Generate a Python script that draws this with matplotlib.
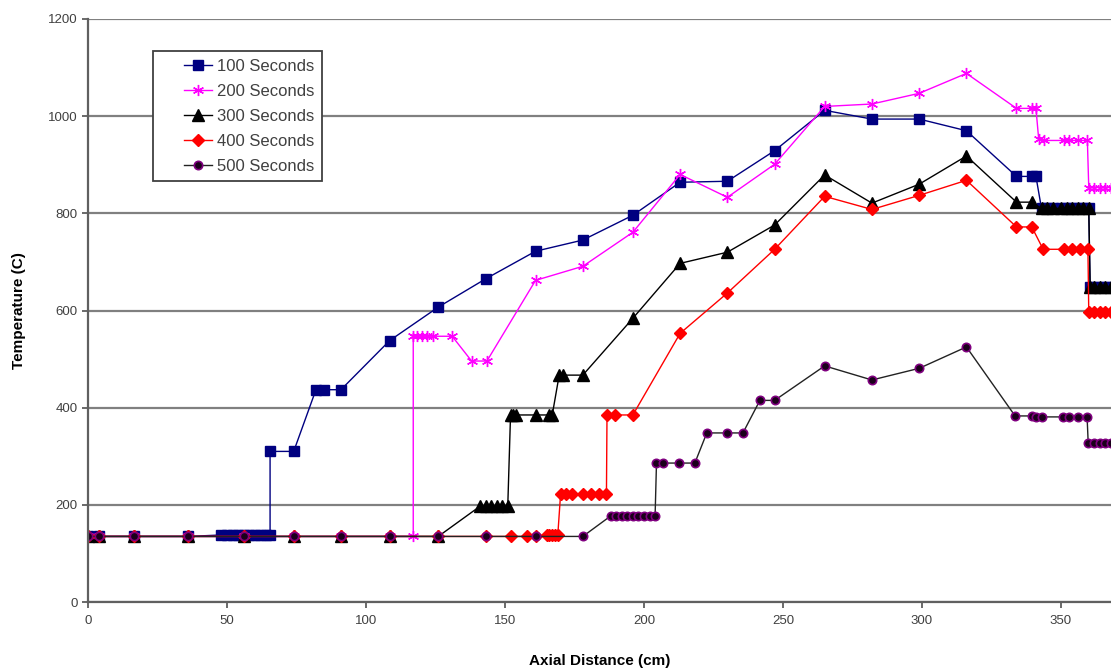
import matplotlib.pyplot as plt
from matplotlib.legend_handler import HandlerLine2D

# data (x in cm, temperature in C)
x_100 = [0, 4, 16.5, 36, 48, 50, 52, 54, 56, 58, 60, 62, 64, 65.5,
         65.5, 74, 82, 85, 91, 108.5, 126, 143, 161, 178, 196, 213, 230, 247,
         265, 282, 299, 316, 334, 339.5, 341, 343, 345, 347, 350, 352, 354,
         356, 358, 360, 360.5, 362, 364, 366, 368]
t_100 = [135, 135, 135, 135, 138, 138, 138, 138, 138, 138, 138, 138, 138, 138,
         310, 310, 437, 437, 437, 538, 607, 665, 722, 745, 796, 864, 866, 929,
         1012, 994, 994, 970, 876, 876, 876, 810, 810, 810, 810, 810, 810,
         810, 810, 810, 648, 648, 648, 648, 648]

x_200 = [0, 4, 16.5, 36, 56, 74, 91, 108.5, 117, 117, 118.5, 120, 122, 124,
         131, 138, 143.5, 161, 178, 196, 213, 230, 247, 265, 282, 299, 316,
         334, 339.5, 341, 342, 344, 351, 353, 356, 359.5, 360, 362, 364, 366, 368]
t_200 = [135, 135, 135, 135, 135, 135, 135, 135, 135, 547, 547, 547, 547, 547,
         547, 496, 496, 662, 691, 761, 880, 833, 901, 1020, 1025, 1047, 1088,
         1016, 1016, 1016, 952, 950, 950, 950, 950, 950, 853, 853, 853, 853, 853]

x_300 = [0, 4, 16.5, 36, 56, 74, 91, 108.5, 126, 141, 143, 145, 147, 149, 151,
         152, 153, 154, 161, 166, 167, 169.5, 171, 178, 196, 213, 230, 247,
         265, 282, 299, 316, 334, 339.5, 343, 345, 347, 350, 352, 354, 356,
         358, 360, 360.5, 362, 364, 366, 368]
t_300 = [135, 135, 135, 135, 135, 135, 135, 135, 135, 197, 197, 197, 197, 197, 197,
         385, 385, 385, 385, 385, 385, 467, 467, 467, 584, 697, 720, 776,
         879, 821, 860, 918, 823, 823, 810, 810, 810, 810, 810, 810, 810,
         810, 810, 648, 648, 648, 648, 648]

x_400 = [0, 4, 16.5, 36, 56, 74, 91, 108.5, 126, 143, 152, 158, 161, 165, 166,
         167, 168, 169, 170, 172, 174, 178, 181, 184, 186.5, 186.7, 189.5, 196,
         213, 230, 247, 265, 282, 299, 316, 334, 339.5, 343.6, 351, 354, 357,
         359.7, 360, 362, 364, 366, 368]
t_400 = [135, 135, 135, 135, 135, 135, 135, 135, 135, 135, 135, 135, 136, 138, 138,
         138, 138, 138, 222, 222, 222, 222, 222, 222, 222, 385, 385, 385,
         553, 636, 726, 835, 808, 837, 868, 772, 772, 726, 726, 726, 726,
         726, 597, 597, 597, 597, 597]

x_500 = [0, 4, 16.5, 36, 56, 74, 91, 108.5, 126, 143, 161, 178, 188, 190, 192,
         194, 196, 198, 200, 202, 204, 204.5, 207, 212.6, 218.3, 222.6, 230, 235.6,
         241.7, 247, 265, 282, 299, 316, 333.5, 339.5, 341, 343, 350.7, 353, 356,
         359.4, 359.8, 362, 364, 366, 368]
t_500 = [135, 135, 135, 135, 135, 135, 135, 135, 135, 135, 135, 135, 177, 177, 177,
         177, 177, 177, 177, 177, 177, 286, 286, 286, 286, 348, 348, 348,
         415, 415, 486, 457, 481, 525, 383, 383, 381, 381, 381, 381, 381,
         381, 327, 327, 327, 327, 327]

labels = ["100 Seconds", "200 Seconds", "300 Seconds", "400 Seconds", "500 Seconds"]
y_ticks = [0, 200, 400, 600, 800, 1000, 1200]
x_ticks = [0, 50, 100, 150, 200, 250, 300, 350]


def main() -> None:
    plt.rcParams["font.family"] = ["Liberation Sans", "DejaVu Sans"]

    fig = plt.figure(figsize=(11.11, 6.71), dpi=100)
    ax = fig.add_axes([0.0792, 0.1028, 0.9208, 0.8689])

    for y in y_ticks:
        ax.axhline(y, color="#808080", linewidth=1.6, zorder=0)

    ax.plot(x_100, t_100, color="#000080", linewidth=1, marker="s", markersize=7,
            markerfacecolor="#000080", markeredgecolor="#000080", label=labels[0])
    ax.plot(x_200, t_200, color="#FF00FF", linewidth=1, marker=(6, 2, 0), markersize=8,
            markeredgecolor="#FF00FF", markeredgewidth=1, label=labels[1])
    ax.plot(x_300, t_300, color="#000000", linewidth=1, marker="^", markersize=8,
            markerfacecolor="#000000", markeredgecolor="#000000", label=labels[2])
    ax.plot(x_400, t_400, color="#FF0000", linewidth=1, marker="D", markersize=6,
            markerfacecolor="#FF0000", markeredgecolor="#FF0000", label=labels[3])
    ax.plot(x_500, t_500, color="#222222", linewidth=1, marker="o", markersize=6,
            markerfacecolor="#1a001a", markeredgecolor="#800080", markeredgewidth=1.2,
            label=labels[4])

    ax.set_xlim(0, 368)
    ax.set_ylim(0, 1200)
    ax.set_xticks(x_ticks)
    ax.set_yticks(y_ticks)
    ax.tick_params(axis="both", direction="out", length=4, width=1.2,
                   colors="#505050", labelsize=9.5, labelcolor="#404040")
    ax.tick_params(axis="x", pad=5)

    for side in ["top", "right"]:
        ax.spines[side].set_visible(False)
    for side in ["left", "bottom"]:
        ax.spines[side].set_color("#606060")
        ax.spines[side].set_linewidth(1.6)

    ax.set_xlabel("Axial Distance (cm)", fontsize=11, fontweight="bold", labelpad=20)
    ax.set_ylabel("Temperature (C)", fontsize=11, fontweight="bold", labelpad=16)

    leg = ax.legend(loc="upper left", bbox_to_anchor=(0.0635, 0.945), fontsize=12,
                    fancybox=False, framealpha=1, edgecolor="#404040",
                    handlelength=3.1, handletextpad=0.3, labelspacing=0.6,
                    borderpad=0.45, borderaxespad=0,
                    handler_map={ln: HandlerLine2D(xpad=1.4) for ln in ax.get_lines()[-5:]})
    leg.get_frame().set_linewidth(1.3)
    for text in leg.get_texts():
        text.set_color("#404040")

    fig.savefig("out.png", dpi=100)
    plt.close(fig)


if __name__ == "__main__":
    main()
